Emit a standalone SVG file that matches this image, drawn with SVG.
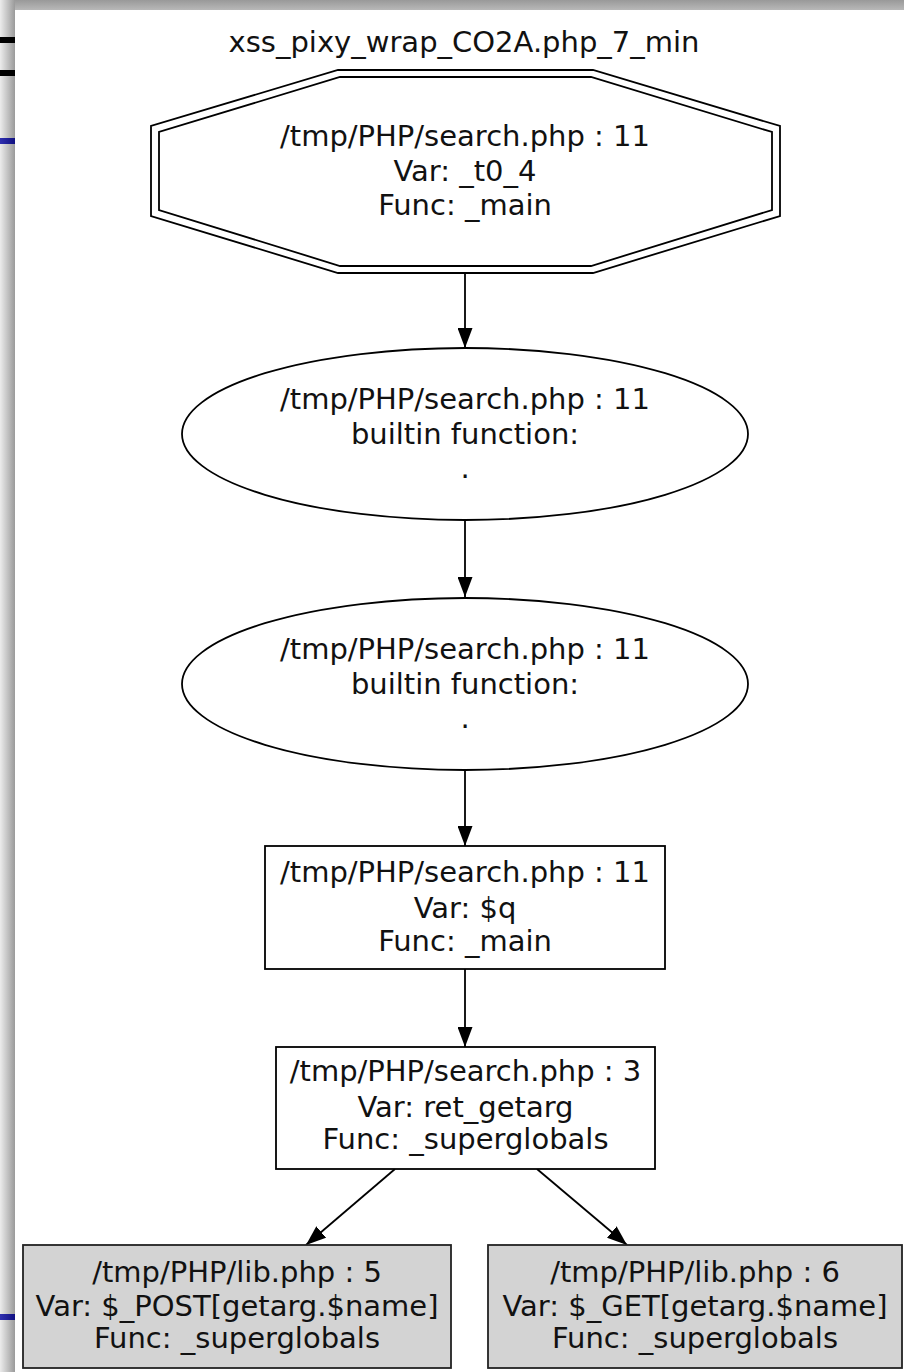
<svg xmlns="http://www.w3.org/2000/svg" width="904" height="1372" viewBox="0 0 904 1372">
<style>
text{font-family:"DejaVu Sans","Liberation Sans",sans-serif;font-size:29px;fill:#111;text-anchor:middle}
.n{fill:none;stroke:#000;stroke-width:1.8}
.g{fill:#d3d3d3;stroke:#222;stroke-width:1.8}
.w{fill:#fff;stroke:#000;stroke-width:1.8}
.e{stroke:#000;stroke-width:1.8;fill:none}
</style>
<defs>
<marker id="ah" viewBox="0 0 20 15" refX="20" refY="7.5" markerWidth="20" markerHeight="15" markerUnits="userSpaceOnUse" orient="auto">
<path d="M0,0 L20,7.5 L0,15 Z" fill="#000"/>
</marker>
<linearGradient id="lg" x1="0" y1="0" x2="1" y2="0">
<stop offset="0" stop-color="#ececec"/>
<stop offset="1" stop-color="#9a9a9a"/>
</linearGradient>
<linearGradient id="tg" x1="0" y1="0" x2="0" y2="1">
<stop offset="0" stop-color="#999"/>
<stop offset="1" stop-color="#b8b8b8"/>
</linearGradient>
<linearGradient id="bg" x1="0" y1="0" x2="1" y2="0">
<stop offset="0" stop-color="#3030b0"/>
<stop offset="1" stop-color="#101080"/>
</linearGradient>
</defs>
<rect x="0" y="0" width="904" height="1372" fill="#fff"/>
<g id="frame">
<rect x="0" y="0" width="15" height="1372" fill="url(#lg)"/>
<rect x="15" y="0" width="889" height="10" fill="url(#tg)"/>
<rect x="0" y="37" width="15" height="6" fill="#000"/>
<rect x="0" y="70" width="15" height="6" fill="#000"/>
<rect x="0" y="138" width="15" height="6" fill="url(#bg)"/>
<rect x="0" y="1314" width="15" height="6" fill="url(#bg)"/>
</g>
<g id="title"><text x="464" y="52">xss_pixy_wrap_CO2A.php_7_min</text></g>
<g id="connectors">
<line class="e" x1="465" y1="273" x2="465" y2="348" marker-end="url(#ah)"/>
<line class="e" x1="465" y1="520" x2="465" y2="597" marker-end="url(#ah)"/>
<line class="e" x1="465" y1="770" x2="465" y2="846" marker-end="url(#ah)"/>
<line class="e" x1="465" y1="969" x2="465" y2="1047" marker-end="url(#ah)"/>
<line class="e" x1="395" y1="1169" x2="306" y2="1245" marker-end="url(#ah)"/>
<line class="e" x1="537" y1="1169" x2="627" y2="1245" marker-end="url(#ah)"/>
</g>
<g id="n0">
<polygon class="n" points="338,70 593,70 780,126 780,216 593,273 338,273 151,216 151,126"/>
<polygon class="n" points="340,77 591,77 772,132 772,210 591,266 340,266 159,210 159,132"/>
<text x="465" y="146">/tmp/PHP/search.php : 11</text>
<text x="465" y="181">Var:  _t0_4</text>
<text x="465" y="215">Func:  _main</text>
</g>
<g id="n1">
<ellipse class="n" cx="465" cy="434" rx="283" ry="86"/>
<text x="465" y="409">/tmp/PHP/search.php : 11</text>
<text x="465" y="444">builtin function:</text>
<text x="465" y="478">.</text>
</g>
<g id="n2">
<ellipse class="n" cx="465" cy="684" rx="283" ry="86"/>
<text x="465" y="659">/tmp/PHP/search.php : 11</text>
<text x="465" y="694">builtin function:</text>
<text x="465" y="728">.</text>
</g>
<g id="n3">
<rect class="w" x="265" y="846" width="400" height="123"/>
<text x="465" y="882">/tmp/PHP/search.php : 11</text>
<text x="465" y="918">Var:  $q</text>
<text x="465" y="951">Func:  _main</text>
</g>
<g id="n4">
<rect class="w" x="276" y="1047" width="379" height="122"/>
<text x="465.5" y="1081">/tmp/PHP/search.php : 3</text>
<text x="465.5" y="1117">Var:  ret_getarg</text>
<text x="465.5" y="1149">Func:  _superglobals</text>
</g>
<g id="n5">
<rect class="g" x="23" y="1245" width="428" height="123"/>
<text x="237" y="1282">/tmp/PHP/lib.php : 5</text>
<text x="237" y="1316">Var:  $_POST[getarg.$name]</text>
<text x="237" y="1348">Func:  _superglobals</text>
</g>
<g id="n6">
<rect class="g" x="488" y="1245" width="414" height="123"/>
<text x="695" y="1282">/tmp/PHP/lib.php : 6</text>
<text x="695" y="1316">Var:  $_GET[getarg.$name]</text>
<text x="695" y="1348">Func:  _superglobals</text>
</g>
</svg>
